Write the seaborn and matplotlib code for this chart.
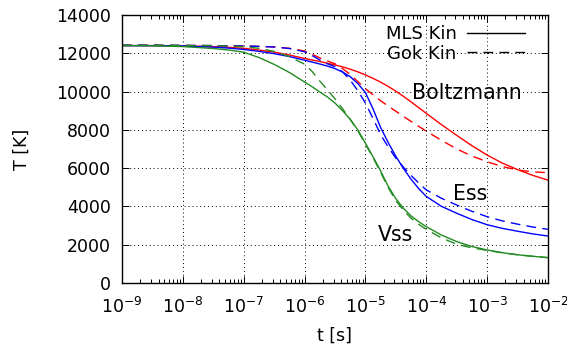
import numpy as np
import pandas as pd
import matplotlib
matplotlib.use('Agg')
import matplotlib.pyplot as plt
import matplotlib.ticker as mticker
from matplotlib.lines import Line2D
import seaborn as sns

# --- Data (log10 of time in s, temperature in K) ---
log_t = [-9, -8.5, -8, -7.5, -7.25, -7, -6.75, -6.5, -6.25, -6, -5.875, -5.75,
         -5.625, -5.5, -5.375, -5.25, -5.125, -5, -4.875, -4.75, -4.625, -4.5,
         -4.375, -4.25, -4.125, -4, -3.75, -3.5, -3.25, -3, -2.75, -2.5, -2.25,
         -2]

boltz_mls = [12400, 12400, 12390, 12350, 12310, 12260, 12170, 12060, 11910,
             11730, 11650, 11570, 11480, 11390, 11290, 11170, 11030, 10870,
             10690, 10490, 10270, 10020, 9750, 9460, 9160, 8860, 8270, 7710,
             7170, 6680, 6260, 5920, 5620, 5370]
boltz_gok = [12420, 12420, 12410, 12400, 12390, 12380, 12360, 12330, 12260,
             12120, 11950, 11760, 11600, 11450, 11200, 10900, 10520, 10150,
             9830, 9520, 9240, 8970, 8700, 8440, 8180, 7930, 7450, 7000, 6630,
             6330, 6080, 5900, 5800, 5760]
ess_mls = [12400, 12400, 12380, 12320, 12270, 12200, 12100, 11980, 11830,
           11640, 11540, 11440, 11330, 11200, 11020, 10780, 10420, 9950, 9100,
           8120, 7330, 6620, 5980, 5420, 4930, 4520, 4000, 3640, 3310, 3040,
           2850, 2700, 2560, 2450]
ess_gok = [12420, 12420, 12410, 12400, 12390, 12380, 12360, 12330, 12250,
           12080, 11880, 11650, 11450, 11300, 11030, 10600, 10050, 9400, 8600,
           7750, 7100, 6520, 6050, 5620, 5220, 4860, 4420, 4070, 3740, 3460,
           3240, 3070, 2920, 2800]
vss_mls = [12400, 12390, 12350, 12250, 12170, 12060, 11780, 11420, 11000,
           10500, 10250, 9980, 9720, 9400, 9000, 8550, 8000, 7300, 6600, 5850,
           5050, 4400, 3900, 3500, 3200, 2940, 2500, 2160, 1900, 1720, 1580,
           1470, 1390, 1320]
vss_gok = [12420, 12420, 12410, 12400, 12380, 12340, 12260, 12100, 11830,
           11430, 11050, 10550, 10100, 9620, 9100, 8550, 7950, 7250, 6550,
           5780, 4980, 4300, 3800, 3380, 3060, 2800, 2350, 2020, 1830, 1700,
           1570, 1470, 1390, 1320]

models = ['Boltzmann', 'Ess', 'Vss']
kinetics = ['MLS Kin', 'Gok Kin']
series = {
    ('Boltzmann', 'MLS Kin'): boltz_mls,
    ('Boltzmann', 'Gok Kin'): boltz_gok,
    ('Ess', 'MLS Kin'): ess_mls,
    ('Ess', 'Gok Kin'): ess_gok,
    ('Vss', 'MLS Kin'): vss_mls,
    ('Vss', 'Gok Kin'): vss_gok,
}

# long-form table for seaborn
rows = []
for (model, kin), temps in series.items():
    for lt, temp in zip(log_t, temps):
        rows.append({'t': 10.0 ** lt, 'T': temp, 'model': model, 'kin': kin})
df = pd.DataFrame(rows)

palette = {'Boltzmann': '#ff0000', 'Ess': '#0000ff', 'Vss': '#228b22'}
gok_dash = (7, 4.5)
dash_map = {'MLS Kin': '', 'Gok Kin': gok_dash}

plt.rcParams['font.family'] = ['DejaVu Sans']
plt.rcParams['axes.unicode_minus'] = False

fig, ax = plt.subplots(figsize=(5.67, 3.45), dpi=100)
fig.subplots_adjust(left=0.215, right=0.9665, top=0.9565, bottom=0.18)

sns.lineplot(data=df, x='t', y='T', hue='model', style='kin',
             palette=palette, dashes=dash_map, hue_order=models,
             style_order=kinetics, linewidth=1.0, legend=False, ax=ax,
             sort=False, estimator=None)

ax.set_xscale('log')
ax.set_xlim(1e-9, 1e-2)
ax.set_ylim(0, 14000)
ax.set_yticks(range(0, 14001, 2000))
ax.xaxis.set_major_locator(mticker.LogLocator(base=10, numticks=20))
ax.xaxis.set_minor_locator(mticker.LogLocator(base=10, subs=np.arange(2, 10), numticks=20))
ax.xaxis.set_minor_formatter(mticker.NullFormatter())

ax.grid(True, which='major', color='black', linestyle=(0, (1, 3)), linewidth=0.7)
ax.tick_params(which='both', direction='in', top=True, right=True,
               labelsize=12.5, colors='black')
ax.tick_params(which='major', length=5, width=0.7)
ax.tick_params(which='minor', length=3, width=0.7)
ax.tick_params(axis='x', pad=10)
ax.tick_params(axis='y', pad=8)
for spine in ax.spines.values():
    spine.set_linewidth(1.0)
    spine.set_color('black')

ax.set_xlabel('t [s]', fontsize=12.5, labelpad=7)
ax.set_ylabel('T [K]', fontsize=12.5, labelpad=18)

# curve labels
ax.text(10 ** -3.34, 9950, 'Boltzmann', fontsize=14.8, ha='center', va='center')
ax.text(10 ** -3.28, 4650, 'Ess', fontsize=14.8, ha='center', va='center')
ax.text(10 ** -4.51, 2500, 'Vss', fontsize=14.8, ha='center', va='center')

handles = [Line2D([], [], color='black', linewidth=1.0),
           Line2D([], [], color='black', linewidth=1.0, dashes=gok_dash)]
ax.legend(handles, kinetics, loc='upper right', markerfirst=False,
          frameon=False, fontsize=13, handlelength=3.2, handletextpad=0.6,
          borderaxespad=0.0, labelspacing=0.1, bbox_to_anchor=(0.963, 0.99))

fig.savefig('out.png', dpi=100)
